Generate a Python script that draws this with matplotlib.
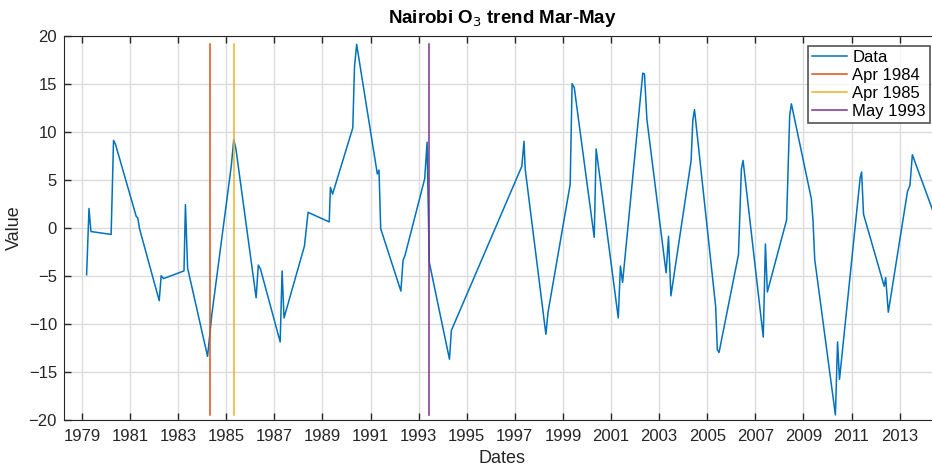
import numpy as np
import matplotlib
matplotlib.use('Agg')
import matplotlib.pyplot as plt

plt.rcParams['font.family'] = ['Liberation Sans', 'DejaVu Sans']

# dates as decimal years
dates = [1979.19, 1979.29, 1979.37, 1980.21, 1980.31, 1980.39,
         1981.25, 1981.32, 1981.39, 1982.21, 1982.29, 1982.39,
         1983.24, 1983.30, 1983.39, 1984.22, 1984.40,
         1985.21, 1985.31, 1985.40, 1986.24, 1986.33, 1986.42,
         1987.24, 1987.32, 1987.40, 1988.25, 1988.40,
         1989.28, 1989.33, 1989.42, 1990.26, 1990.33, 1990.42,
         1991.28, 1991.35, 1991.42, 1992.26, 1992.35, 1992.43,
         1993.25, 1993.35, 1993.44, 1994.28, 1994.36,
         1997.29, 1997.38, 1997.43, 1998.29, 1998.38,
         1999.30, 1999.38, 1999.47, 2000.30, 2000.38,
         2001.30, 2001.39, 2001.48, 2002.32, 2002.39, 2002.49,
         2003.29, 2003.39, 2003.49, 2004.33, 2004.40, 2004.47,
         2005.35, 2005.42, 2005.49, 2006.30, 2006.42, 2006.49,
         2007.33, 2007.42, 2007.50, 2008.30, 2008.43, 2008.50,
         2009.33, 2009.40, 2009.47, 2010.33, 2010.42, 2010.50,
         2011.36, 2011.42, 2011.50, 2012.36, 2012.42, 2012.53,
         2013.33, 2013.43, 2013.53, 2014.45]
values = [-4.9, 2.0, -0.4, -0.7, 9.1, 8.7,
          1.2, 1.0, -0.1, -7.6, -5.0, -5.3,
          -4.5, 2.4, -4.2, -13.4, -9.0,
          6.5, 9.2, 8.2, -7.3, -3.9, -4.3,
          -11.9, -4.5, -9.4, -1.9, 1.6,
          0.6, 4.2, 3.5, 10.4, 16.7, 19.1,
          5.6, 6.0, -0.1, -6.6, -3.4, -2.9,
          5.1, 8.9, -3.6, -13.7, -10.7,
          6.4, 9.0, 6.1, -11.1, -8.8,
          4.5, 15.0, 14.6, -1.0, 8.2,
          -9.4, -4.0, -5.7, 16.1, 16.0, 11.3,
          -4.7, -0.9, -7.1, 7.0, 11.2, 12.3,
          -8.2, -12.7, -13.0, -2.8, 6.1, 7.0,
          -11.4, -1.7, -6.7, 0.8, 11.7, 12.9,
          3.0, 0.7, -3.3, -19.5, -11.9, -15.8,
          5.2, 5.8, 1.4, -6.1, -5.2, -8.8,
          3.8, 4.4, 7.6, 1.3]

event_dates = [1984.32, 1985.30, 1993.43]
event_labels = ['Apr 1984', 'Apr 1985', 'May 1993']
event_colors = ['#D95319', '#EDB120', '#7E2F8E']

tick_years = list(range(1979, 2015, 2))

fig = plt.figure(figsize=(9.32, 4.72), dpi=100)
ax = fig.add_axes([64 / 932, 0.1108, 876 / 932, 0.8136])

ax.plot(dates, values, color='#0072BD', lw=1.1, label='Data')
lo, hi = min(values), max(values)
for d, lab, c in zip(event_dates, event_labels, event_colors):
    ax.plot([d, d], [lo, hi], color=c, lw=1.1, label=lab)

ax.set_xlim(1978.25, 2014.68)
ax.set_ylim(-20, 20)
ax.set_xticks(tick_years)
ax.set_xticklabels([str(y) for y in tick_years])
ax.set_yticks(np.arange(-20, 21, 5))
ax.grid(True, color='#dcdcdc', lw=1.0)
ax.set_axisbelow(True)
ax.tick_params(direction='in', top=True, right=False, length=5, width=1,
               labelsize=12, colors='#262626')
ax.tick_params(axis='x', pad=7)
ax.tick_params(axis='y', pad=5)
for s in ax.spines.values():
    s.set_color('#262626')
ax.spines['right'].set_visible(False)

ax.set_title('Nairobi O$_3$ trend Mar-May', fontsize=13.5, fontweight='bold', pad=9)
ax.set_xlabel('Dates', fontsize=13, color='#262626', labelpad=4)
ax.set_ylabel('Value', fontsize=13, color='#262626', labelpad=4)

leg = ax.legend(loc='upper right', bbox_to_anchor=(0.9886, 0.973), fontsize=12,
                frameon=True, fancybox=False, edgecolor='#262626',
                borderpad=0.25, labelspacing=0.18, handlelength=2.1,
                handletextpad=0.3, borderaxespad=0.0)
leg.get_frame().set_linewidth(1.2)

fig.savefig('out.png', dpi=100)
